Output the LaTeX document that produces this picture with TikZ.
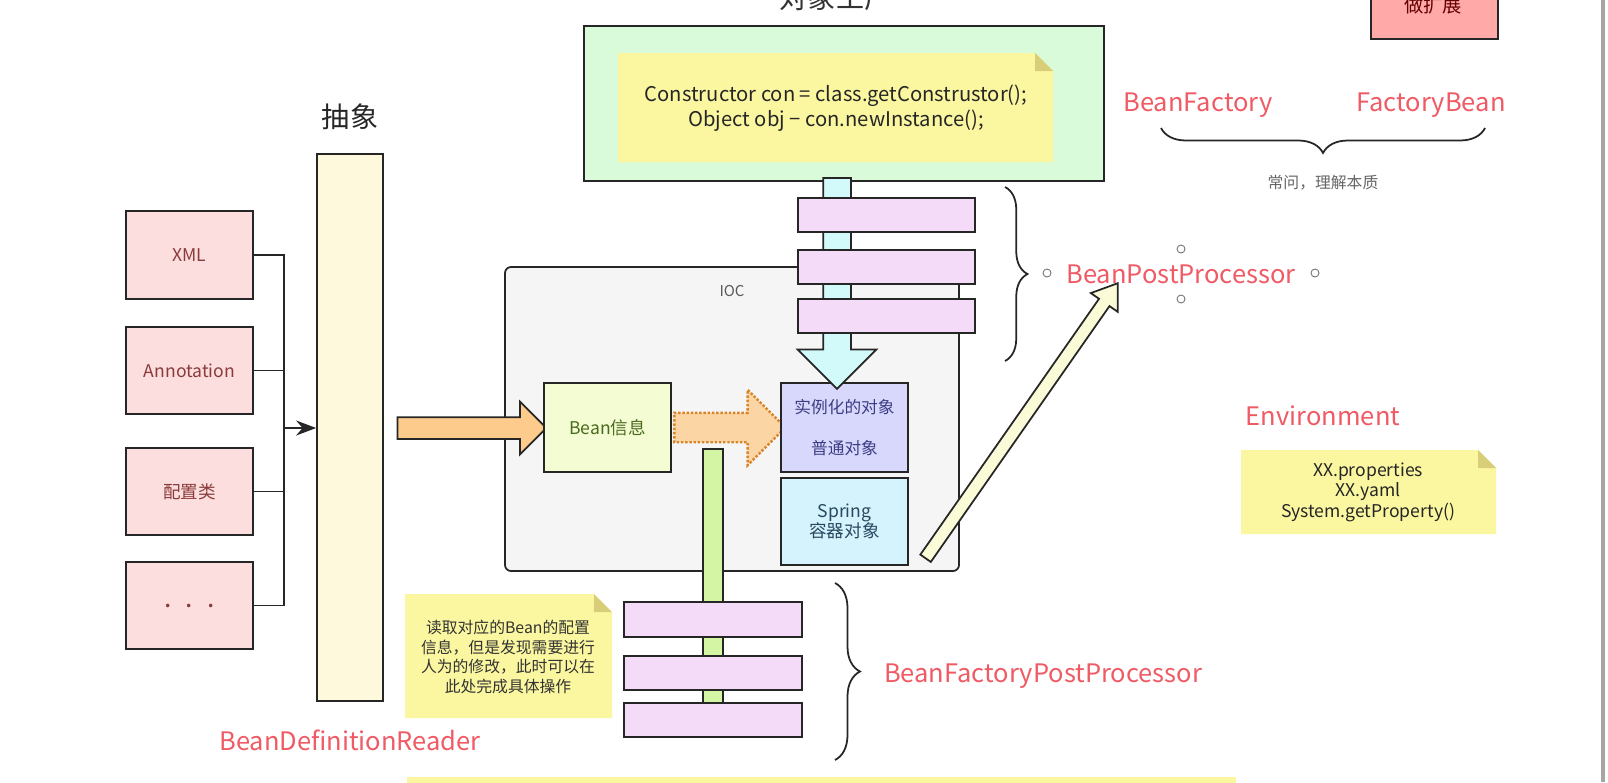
\documentclass[tikz,border=0pt]{standalone}
\usepackage{fontspec}
\setmainfont{Noto Sans CJK SC}
\usetikzlibrary{shapes.arrows,decorations.pathreplacing,arrows.meta}

\definecolor{srcpink}{HTML}{FDDEDE}
\definecolor{srctext}{HTML}{8A3B3B}
\definecolor{readerfill}{HTML}{FEF8DC}
\definecolor{factfill}{HTML}{D9FBD9}
\definecolor{notefill}{HTML}{FBF7A0}
\definecolor{notefold}{HTML}{D8CE78}
\definecolor{iocfill}{HTML}{F5F5F5}
\definecolor{beanfill}{HTML}{F4FCD4}
\definecolor{beantext}{HTML}{4B6A1E}
\definecolor{instfill}{HTML}{D8D8FC}
\definecolor{insttext}{HTML}{3D3D85}
\definecolor{springfill}{HTML}{D5F3FC}
\definecolor{springtext}{HTML}{284860}
\definecolor{procfill}{HTML}{F4DCF8}
\definecolor{downfill}{HTML}{D2FAFA}
\definecolor{orangefill}{HTML}{FDCB8C}
\definecolor{dotfill}{HTML}{FCD5A5}
\definecolor{dotline}{HTML}{D9862A}
\definecolor{gbarfill}{HTML}{D4F5A4}
\definecolor{postfill}{HTML}{FCFBD8}
\definecolor{extfill}{HTML}{FFA9A9}
\definecolor{labelred}{HTML}{F05A64}

\tikzset{
  srcbox/.style={draw=black!85, line width=1pt, fill=srcpink, text=srctext,
    minimum width=2.54cm, minimum height=1.75cm, font=\fontsize{10pt}{12pt}\selectfont},
  iocbox/.style={draw=black!85, line width=1pt, minimum width=2.54cm, align=center},
  procbar/.style={draw=black!85, line width=1pt, fill=procfill},
  redlabel/.style={text=labelred, font=\fontsize{14.5pt}{17pt}\selectfont},
  blockarrow/.style={single arrow, draw=black!85, line width=1pt, inner sep=0pt},
  curly/.style={decorate, decoration={brace, amplitude=#1}, line width=1pt, draw=black!85},
}

% sticky note with folded corner: x1 y1 x2 y2
\newcommand{\stickynote}[4]{%
  \fill[notefill] (#1,#2) -- ({#3-18},#2) -- (#3,{#2+18}) -- (#3,#4) -- (#1,#4) -- cycle;
  \fill[notefold] ({#3-18},#2) -- ({#3-18},{#2+18}) -- (#3,{#2+18}) -- cycle;
}

\begin{document}
\begin{tikzpicture}[x=0.02cm, y=-0.02cm]
                \useasboundingbox (0,0) rectangle (1608,782);
                \clip (0,0) rectangle (1608,782);
                \fill[white] (0,0) rectangle (1608,782);

                % Object factory on top
                \node[font=\fontsize{16pt}{18pt}\selectfont, text=black!80] (factorytitle) at (836,-2) {对象工厂};
                \draw[line width=1pt, draw=black!85, fill=factfill] (584,26) rectangle (1104,181);
                \stickynote{618}{53}{1053}{162}
                \node[align=center, font=\fontsize{11.5pt}{14.2pt}\selectfont, text=black!85] (code) at (836,108)
                  {Constructor con = class.getConstrustor();\\Object obj − con.newInstance();};

                % Extension box, top right
                \draw[line width=1pt, draw=black!85, fill=extfill] (1371,-5) rectangle (1498,39);
                \node[font=\fontsize{11pt}{13pt}\selectfont, text=red!40!black] (extlabel) at (1433,5) {做扩展};

                % BeanFactory and FactoryBean
                \node[redlabel] (bf) at (1198,105) {BeanFactory};
                \node[redlabel] (fb) at (1431,105) {FactoryBean};
                \draw[curly=0.5cm] (1485,128) -- (1161,128);
                \node[font=\fontsize{9pt}{11pt}\selectfont, text=black!60] (askq) at (1323,183) {常问，理解本质};

                % Reader bar
                \node[font=\fontsize{16pt}{18pt}\selectfont, text=black!85] (abstr) at (350,117) {抽象};
                \node[draw=black!85, line width=1pt, fill=readerfill, minimum width=1.32cm, minimum height=10.94cm] (reader) at (350,427.5) {};
                \node[redlabel] (readerlabel) at (350,740) {BeanDefinitionReader};

                % Sources
                \node[srcbox] (xml) at (189.5,255) {XML};
                \node[srcbox] (anno) at (189.5,370.5) {Annotation};
                \node[srcbox] (conf) at (189.5,491.5) {配置类};
                \node[srcbox, font=\fontsize{15pt}{16pt}\selectfont] (more) at (189.5,605.5) {.\hspace{8pt}.\hspace{8pt}.};

                % Sources into reader
                \coordinate (join) at (284,428);
                \draw[line width=1pt, black!85] (xml.east) -| (join);
                \draw[line width=1pt, black!85] (anno.east) -| (join);
                \draw[line width=1pt, black!85] (conf.east) -| (join);
                \draw[line width=1pt, black!85] (more.east) -| (join);
                \draw[line width=1pt, black!85, -{Stealth[length=0.4cm, width=0.3cm]}] (join) -- (reader.west |- join);

                % IOC container
                \draw[line width=1pt, draw=black!85, fill=iocfill, rounded corners=0.12cm] (505,267) rectangle (959,571);
                \node[font=\fontsize{8.5pt}{10pt}\selectfont, text=black!65] (ioclabel) at (732,291) {IOC};
                \node[blockarrow, fill=orangefill, minimum height=2.98cm, inner ysep=0.2cm, single arrow head extend=0.31cm] (toread) at (466.5,428) {};
                \node[iocbox, fill=beanfill, text=beantext, minimum height=1.78cm, font=\fontsize{10pt}{12pt}\selectfont] (bean) at (607.5,427.5) {Bean信息};
                \node[single arrow, draw=dotline, densely dotted, line width=1.4pt, fill=dotfill, inner xsep=0pt, inner ysep=0.27cm,
                  single arrow head extend=0.46cm, minimum height=2.22cm] (toinst) at (722.5,427.5) {};
                \node[iocbox, fill=instfill, text=insttext, minimum height=1.78cm, font=\fontsize{9.5pt}{23.8pt}\selectfont] (inst) at (844.5,427.5) {实例化的对象\\普通对象};
                \node[iocbox, fill=springfill, text=springtext, minimum height=1.74cm, font=\fontsize{10pt}{11.3pt}\selectfont] (spring) at (844.5,521.5) {Spring\\容器对象};

                % Instantiation arrow and post processors
                \node[blockarrow, fill=downfill, rotate=-90, minimum height=4.22cm, inner ysep=0.26cm, single arrow head extend=0.51cm] (todown) at (837,276.5) {};
                \draw[procbar] (798,198) rectangle (975,232);
                \draw[procbar] (798,250) rectangle (975,284);
                \draw[procbar] (798,299) rectangle (975,333);

                % Factory post processors
                \draw[line width=1pt, draw=black!85, fill=gbarfill] (703,449) rectangle (723,705);
                \draw[procbar] (624,602) rectangle (802,637);
                \draw[procbar] (624,656) rectangle (802,690);
                \draw[procbar] (624,703) rectangle (802,737);

                % Notes
                \stickynote{405}{594}{612}{718}
                \node[align=center, font=\fontsize{9pt}{11.3pt}\selectfont, text=black!80] (readnote) at (508,657)
                  {读取对应的Bean的配置\\信息，但是发现需要进行\\人为的修改，此时可以在\\此处完成具体操作};
                \node[redlabel] (env) at (1323,416) {Environment};
                \stickynote{1241}{450}{1496}{534}
                \node[align=center, font=\fontsize{10pt}{11.6pt}\selectfont, text=black!85] (envnote) at (1368,492)
                  {XX.properties\\XX.yaml\\System.getProperty()};

                % Arrow to BeanPostProcessor
                \node[blockarrow, fill=postfill, rotate=55.07, minimum height=6.71cm, inner ysep=0.11cm,
                  single arrow head extend=0.2cm, single arrow tip angle=70] (topost) at (1019,424.5) {};

                % Braces and labels
                \draw[curly=0.45cm] (1005,187) -- (1005,361);
                \node[redlabel] (postlabel) at (1181,274) {BeanPostProcessor};
                \draw[curly=0.5cm] (835,583) -- (835,760);
                \node[redlabel] (bfpplabel) at (1043,676) {BeanFactoryPostProcessor};

                % Selection handles round BeanPostProcessor
                \draw[black!55, line width=0.5pt] (1047,273) circle (0.08cm);
                \draw[black!55, line width=0.5pt] (1181,249) circle (0.08cm);
                \draw[black!55, line width=0.5pt] (1181,299) circle (0.08cm);
                \draw[black!55, line width=0.5pt] (1315,273) circle (0.08cm);

                % Bottom strip and right edge
                \fill[notefill] (407,777) rectangle (1236,790);
                \draw[black!35, line width=2pt] (1603,0) -- (1603,782);
\end{tikzpicture}
\end{document}
